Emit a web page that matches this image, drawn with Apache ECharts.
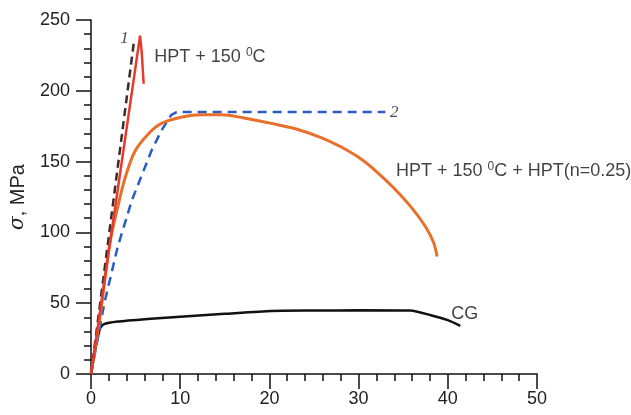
<!DOCTYPE html>
<html>
<head>
<meta charset="utf-8">
<script src="https://cdn.jsdelivr.net/npm/echarts@6/dist/echarts.min.js"></script>
<style>
  html, body { margin: 0; padding: 0; background: #fff; }
  #chart { width: 631px; height: 415px; }
</style>
</head>
<body>
<div id="chart"></div>
<script>
// strain (%), stress (MPa)
var redCurve = [[0, 0], [5.5, 239], [5.7, 226], [5.9, 205]];
var dashLine1 = [[0, 0], [4.8, 234]];
var dashLine2 = [[0, 0], [1.5, 50], [3, 90], [4.6, 123], [6.8, 158], [7.9, 172], [9, 183], [9.6, 185], [33, 185]];
var orangeCurve = [[0, 0], [1, 40], [2.1, 92], [3, 118], [3.8, 138], [4.9, 157], [6.5, 170], [7.9, 177],
  [10.2, 181.5], [12.5, 183], [14.6, 183], [17, 181], [20.2, 177], [23, 173], [25.8, 167], [28, 160.5],
  [30, 153], [32, 143], [34, 131], [36, 117], [37.5, 104], [38.4, 93], [38.8, 83]];
var cgCurve = [[0, 0], [0.5, 18], [1.0, 32], [1.4, 35], [3, 37], [6.7, 39], [10, 40.5], [15, 42.5],
  [20.2, 44.5], [25, 44.8], [30, 45], [35.8, 44.8], [38, 41.7], [40, 38], [41.4, 34]];

// text labels and where they sit (data coords)
var labelTexts = ['HPT + 150 {sup|0}C', 'HPT + 150 {sup|0}C + HPT(n=0.25)', 'CG'];
var labelPos = [[7.1, 224], [34.2, 143], [40.4, 42]];
var numTexts = ['1', '2'];
var numPos = [[3.75, 237], [34.0, 185]];

var xTicks = [0, 10, 20, 30, 40, 50];
var yTicks = [0, 50, 100, 150, 200, 250];

var chart = echarts.init(document.getElementById('chart'));

var font = 'Liberation Sans, Arial, sans-serif';
var axisCommon = {
  axisLine: { lineStyle: { color: '#111', width: 1.5 } },
  axisTick: { length: 15, lineStyle: { color: '#111', width: 1.5 } },
  minorTick: { show: true, splitNumber: 5, length: 7, lineStyle: { color: '#111', width: 1.5 } },
  splitLine: { show: false },
  axisLabel: { color: '#222', fontSize: 18, fontFamily: font }
};

var textLabels = labelTexts.map(function (t, i) {
  return {
    value: labelPos[i],
    label: {
      show: true, position: 'right', distance: 0, formatter: t,
      color: '#111', fontSize: 18, fontFamily: font,
      rich: { sup: { fontSize: 12, fontFamily: font, color: '#111', padding: [0, 0, 9, 0] } }
    }
  };
});
var numLabels = numTexts.map(function (t, i) {
  return {
    value: numPos[i],
    label: {
      show: true, position: 'inside', formatter: t,
      color: '#222', fontSize: 17, fontStyle: 'italic', fontFamily: 'Liberation Serif, Times New Roman, serif'
    }
  };
});

chart.setOption({
  animation: false,
  grid: { left: 89, right: 94, top: 20, bottom: 41 },
  xAxis: Object.assign({}, axisCommon, {
    type: 'value', min: xTicks[0], max: xTicks[xTicks.length - 1], interval: 10,
    axisLabel: Object.assign({}, axisCommon.axisLabel, { margin: 16 })
  }),
  yAxis: Object.assign({}, axisCommon, {
    type: 'value', min: yTicks[0], max: yTicks[yTicks.length - 1], interval: 50,
    axisLabel: Object.assign({}, axisCommon.axisLabel, { margin: 21 }),
    name: '{s|σ}, MPa', nameLocation: 'middle', nameRotate: 90, nameGap: 63,
    nameTextStyle: { color: '#222', fontSize: 20, fontFamily: font,
      rich: { s: { fontStyle: 'italic', fontSize: 20, fontFamily: 'DejaVu Serif, serif', color: '#222' } } }
  }),
  series: [
    { type: 'line', data: cgCurve, showSymbol: false, smooth: 0.2,
      lineStyle: { color: '#111', width: 2.5 } },
    { type: 'line', data: dashLine2, showSymbol: false,
      lineStyle: { color: '#2b5cc4', width: 2.5, type: [9, 6] } },
    { type: 'line', data: orangeCurve, showSymbol: false, smooth: 0.3,
      lineStyle: { color: '#e8702a', width: 3 } },
    { type: 'line', data: dashLine1, showSymbol: false,
      lineStyle: { color: '#3d2b28', width: 2.5, type: [8, 5] } },
    { type: 'line', data: redCurve, showSymbol: false,
      lineStyle: { color: '#e53a2c', width: 2.5 } },
    { type: 'scatter', symbolSize: 0, data: textLabels.concat(numLabels), silent: true }
  ]
});
</script>
</body>
</html>
